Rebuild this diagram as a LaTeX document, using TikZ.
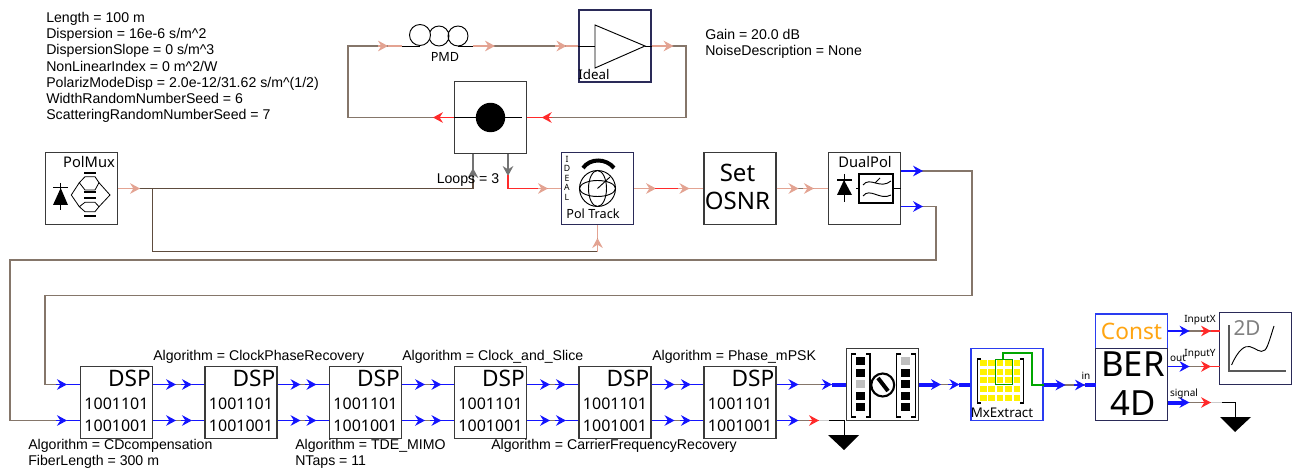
\documentclass[tikz,border=0pt]{standalone}
\usepackage{fontspec}
\setmainfont{Liberation Sans}
\newfontfamily\iconfont{Noto Sans}
\usetikzlibrary{arrows.meta,calc}
\definecolor{wirebrown}{HTML}{85766A}
\definecolor{wiredark}{HTML}{5E4C3E}
\definecolor{wirepink}{HTML}{E3A392}
\definecolor{wirered}{HTML}{FF2A2A}
\definecolor{wireblue}{HTML}{1414FF}
\definecolor{boxedge}{HTML}{3A3A3A}
\definecolor{boxnavy}{HTML}{2A2A58}
\definecolor{framblue}{HTML}{2A3CF0}
\definecolor{constorange}{HTML}{FFA512}
\tikzset{
  box/.style={draw=boxedge, line width=1.1pt, minimum width=53.7pt, minimum height=53.7pt, inner sep=0pt, fill=white, align=center},
  note/.style={font=\fontsize{10.6}{12.2}\selectfont, inner sep=0pt, align=left, anchor=west},
  icon/.style={font=\iconfont\fontsize{#1}{#1}\selectfont, inner sep=0pt, align=center},
  wire/.style={draw=wirebrown, line width=0.9pt},
  pink/.style={draw=wirepink, line width=0.9pt},
  redw/.style={draw=wirered, line width=0.9pt},
  bluew/.style={draw=wireblue, line width=0.9pt},
  bluefat/.style={draw=wireblue, line width=3pt},
  grayw/.style={draw=black!55, line width=1.1pt},
  >={Stealth[length=7.5pt,width=8pt,inset=2.5pt]}
}
\newcommand{\outport}[3]{\draw[#2,->] (#1) -- ++(#3,0);}
\newcommand{\inport}[3]{\draw[#2] ($(#1)+(-#3,0)$) -- (#1);
  \draw[#2,line width=0.9pt,->] ($(#1)+(-#3-11,0)$) -- ($(#1)+(-#3,0)$);}
\begin{document}
\begin{tikzpicture}[x=0.75pt,y=-0.75pt]
\useasboundingbox (0,0) rectangle (1292,470);
\node[box] (polmux) at (81.5,188.5) {};
\node[box] (coupler) at (490.5,117.5) {};
\node[box, draw=boxnavy] (amp) at (615,46) {};
\node[box, draw=boxnavy] (poltrack) at (597.5,188.5) {};
\node[box] (osnr) at (740,188.5) {};
\node[box] (dualpol) at (864.5,188.5) {};
\node[box] (demux) at (882.5,384.5) {};
\node[box, draw=framblue] (mxextract) at (1007,384.5) {};
\node[box, draw=framblue, minimum height=26.5pt, icon=17, text=constorange] (const) at (1131.5,331.5) {Const};
\node[box, draw=boxnavy] (ber) at (1131.5,384.5) {};
\node[box, draw=boxnavy] (plot) at (1255.5,348.5) {};
\node[icon=18] (osnrname) at (737.5,187) {Set\\[3pt]OSNR};
\node[icon=26] (bername) at (1133,383.5) {BER\\[3pt]4D};
\foreach \i/\x in {1/116.5,2/241,3/365.5,4/490.5,5/615,6/740} {
  \node[box] (dsp\i) at (\x,402.5) {};
  \node[icon=17, anchor=east] (dsp\i name) at ($(dsp\i.east)+(-2,-24)$) {DSP};
  \node[icon=12] (dsp\i a) at ($(dsp\i.center)+(0,1.5)$) {1001101};
  \node[icon=12] (dsp\i b) at ($(dsp\i.center)+(0,23)$) {1001001};
  \coordinate (dsp\i wu) at ($(dsp\i.west)+(0,-18)$);
  \coordinate (dsp\i wd) at ($(dsp\i.west)+(0,18)$);
  \coordinate (dsp\i eu) at ($(dsp\i.east)+(0,-18)$);
  \coordinate (dsp\i ed) at ($(dsp\i.east)+(0,18)$);
}
\coordinate (loopup) at ($(coupler.south)+(-17.5,0)$);
\coordinate (loopdown) at ($(coupler.south)+(17.5,0)$);
\coordinate (pmdin) at (402,46);
\coordinate (pmdout) at (473,46);
\coordinate (polu) at ($(dualpol.east)+(0,-17.5)$);
\coordinate (pold) at ($(dualpol.east)+(0,18)$);
\coordinate (tap) at (152.5,188.5);
\coordinate (gnda) at (844,435);
\coordinate (gndb) at (1235,417);
\coordinate (constin) at (1096,385);
\coordinate (constx) at (1167.5,331);
\coordinate (plotx) at (1220,331);
\coordinate (outy) at (1167.5,366.5);
\coordinate (ploty) at (1220,366.5);
\coordinate (signal) at (1167.5,402.5);

% wires
\draw[wire] (coupler.west) -| (348,46) -- (pmdin);
\draw[wire] (pmdout) -- (amp.west);
\draw[wire] (amp.east) -| (686,117.5) -- (coupler.east);
\draw[wire, draw=wiredark] (polmux.east) -| (loopup);
\draw[wire, draw=wiredark] (tap) |- (597.5,251.7) -- (poltrack.south);
\draw[wire] (polu) -| (972,295.7) -- (45,295.7) |- (dsp1wu);
\draw[wire] (pold) -| (936,260) -- (10,260) |- (dsp1wd);
\draw[wire] (dsp6eu) -- (demux.west |- dsp6eu);
\draw[wire] (dsp6ed) -- (829,420.5);
\draw (829,420.5) -| (gnda);
\draw[wire] (demux.east) -- (mxextract.west);
\draw[wire] (mxextract.east |- constin) -- (constin);
\draw[wire] (constx) -- (plotx);
\draw[wire] (outy) -- (ploty);
\draw[wire] (signal) -- (1222,402.5);
\draw (1222,402.5) -| (gndb);
\draw[wire] (osnr.east) -- (dualpol.west);

% ports
\draw[redw,->] (coupler.west) -- ++(-21,0);
\draw[redw] (coupler.east) -- (541.7,117.5);
\draw[redw,->] (552,117.5) -- (541.7,117.5);
\outport{amp.east}{pink}{22}
\outport{pmdout}{pink}{22}
\inport{amp.west}{pink}{12}
\draw[pink,->] (378,46) -- (388,46);
\draw[pink] (388,46) -- (pmdin);
\outport{polmux.east}{pink}{22}
\draw[grayw] (loopup) -- ++(0,25);
\draw[grayw,->] ($(loopup)+(0,25)$) -- (473,168);
\draw[grayw,->] (loopdown) -- ++(0,22);
\draw[redw] (508,175) |- (548,188.5);
\draw[pink,->] (538,188.5) -- (548,188.5);
\draw[pink] (548,188.5) -- (poltrack.west);
\draw[pink,->] (597.5,251.7) -- (597.5,238);
\draw[pink] (597.5,238) -- (poltrack.south);
\outport{poltrack.east}{pink}{22}
\draw[redw] (655,188.5) -- (680,188.5);
\inport{osnr.west}{pink}{14}
\outport{osnr.east}{pink}{22}
\inport{dualpol.west}{pink}{14}
\outport{polu}{bluew}{22}
\outport{pold}{bluew}{22}
\inport{dsp1wu}{bluew}{13}
\inport{dsp1wd}{bluew}{13}
\foreach \i/\j in {1/2,2/3,3/4,4/5,5/6} {
  \draw[wire] (dsp\i eu) -- (dsp\j wu);
  \draw[wire] (dsp\i ed) -- (dsp\j wd);
  \outport{dsp\i eu}{bluew}{23}
  \outport{dsp\i ed}{bluew}{23}
  \inport{dsp\j wu}{bluew}{12.5}
  \inport{dsp\j wd}{bluew}{12.5}
}
\outport{dsp6eu}{bluew}{22}
\outport{dsp6ed}{bluew}{22}
\draw[redw,->] (809,420.5) -- (819,420.5);
\draw[draw=black!20, line width=0.9pt] (819,420.5) -- (829,420.5);
\inport{demux.west}{bluefat}{14}
\outport{demux.east}{bluefat}{22}
\inport{mxextract.west}{bluefat}{11}
\outport{mxextract.east |- constin}{bluefat}{22}
\inport{constin}{bluefat}{11}
\outport{constx}{bluew}{22}
\outport{outy}{bluew}{22}
\outport{signal}{bluefat}{22}
\foreach \a in {331,366.5,402.5} {
  \draw[redw,->] (1201,\a) -- (1211,\a);
}
\draw[redw] (1211,331) -- (plotx);
\draw[redw] (1211,366.5) -- (ploty);
\draw[draw=black!20, line width=0.9pt] (1211,402.5) -- (1222,402.5);

% grounds
\fill (828,435) -- (859,435) -- (844,450) -- cycle;
\fill (1220,417) -- (1251,417) -- (1235,432) -- cycle;

% amp and fibre
\draw[line width=0.6pt] (amp.west) -- (595,46);
\draw[line width=0.6pt] (645,46) -- (amp.east);
\draw[line width=0.7pt, fill=white] (595,25) -- (645,46) -- (595,68) -- cycle;
\node[icon=10] (amplabel) at (594,75) {Ideal};
\draw[line width=0.7pt, fill=white] (458,36) circle (10) (439,36) circle (10);
\draw[line width=0.7pt, fill=white] (420,35) circle (10.5);
\draw[line width=0.7pt] (pmdin) -- (420,46);
\draw[line width=0.7pt] (458,46) -- (pmdout);
\node[icon=9.5] (pmdlabel) at (445,57) {PMD};

% coupler
\draw[line width=0.6pt] (coupler.west) -- (522,117.5);
\fill (coupler.center) circle (14.7);
\node[font=\fontsize{10.6}{12}\selectfont, inner sep=0pt] (loops) at (468,180) {Loops = 3};

% polmux
\node[icon=11] (polmuxname) at (89,162) {PolMux};
\draw[line width=0.6pt] (60.7,183) -- (60.7,210.5);
\draw[line width=0.8pt] (53,187.7) -- (68,187.7);
\fill (60.7,188) -- (68,205) -- (53,205) -- cycle;
\draw[line width=0.6pt] (79.3,182.7) -- (71.3,195) -- (79.3,206.7) (99,182.7) -- (110,195) -- (99,206.7);
\draw[line width=0.6pt] (79.3,182.7) -- (85,176.7) -- (95,176.7) -- (99,182.7) -- (95,190) -- (85,190) -- cycle;
\draw[line width=0.6pt] (79.3,206.7) -- (85,202.3) -- (95,202.3) -- (99,206.7) -- (95,211.7) -- (85,211.7) -- cycle;
\foreach \a in {173.3,191.7,198.3,216} {
  \draw[line width=1.5pt] (84,\a) -- (96,\a);
}

% pol track
\node[font=\iconfont\fontsize{6.5}{7.1}\selectfont, inner sep=0pt, align=center] (ideal) at (567,178) {I\\D\\E\\A\\L};
\draw[line width=0.7pt] (poltrack.center) circle (18);
\draw[line width=0.7pt] (poltrack.center) ellipse (9 and 18);
\draw[line width=0.7pt] (poltrack.center) ellipse (18 and 8);
\draw[line width=0.7pt] (poltrack.center) -- (610,177);
\draw[line width=3pt] (583,168) .. controls (590,158) and (606,158) .. (614,168);
\node[icon=9.5] (poltrackname) at (593,214) {Pol Track};

% dual pol
\node[icon=11] (dualname) at (865,162) {DualPol};
\draw[line width=0.6pt] (844,174) -- (844,202);
\draw[line width=0.8pt] (837,180) -- (852,180);
\fill (844,180) -- (852,195) -- (837,195) -- cycle;
\draw[line width=0.6pt] (856,188.5) -- (859,188.5) (893,188.5) -- (dualpol.east);
\draw[line width=0.9pt] (859,174) rectangle (893,203);
\draw[line width=0.7pt] (863,185) .. controls (870,176) and (880,190) .. (891,181);
\draw[line width=0.7pt] (863,196) .. controls (870,187) and (880,201) .. (891,195);
\draw[line width=0.7pt] (875,183) -- (880,178);

% demux
\foreach \a/\b in {851.7/855.7,870/866,896.7/901,915.7/911} {
  \draw[line width=1pt] (\b,354) -- (\a,354) -- (\a,417) -- (\b,417);
}
\foreach \a/\c in {361/black,373.3/black,384.3/black!25,395.7/black,407.3/black} {
  \fill[\c] (856,\a-4) rectangle (864.5,\a+4);
}
\foreach \a/\c in {361/black!25,373.3/black,384.3/black,395.7/black,407.3/black} {
  \fill[\c] (901,\a-4) rectangle (909.5,\a+4);
}
\draw[line width=1.6pt] (882.7,385) circle (11.5);
\draw[line width=3pt] (878,378) -- (888,391);

% mx extract
\foreach \a/\b in {977.3/981,1023.3/1019.5} {
  \draw[line width=1pt] (\b,359) -- (\a,359) -- (\a,403) -- (\b,403);
}
\foreach \a in {983.3,991.7,1000,1008.3,1017} {
  \foreach \b in {362.5,371.7,380,389,397.7} {
    \fill[yellow] (\a-3.3,\b-3) rectangle (\a+3.3,\b+3);
  }
}
\draw[green!60!black, line width=0.7pt] (995.7,359) rectangle (1012,384.3);
\draw[green!65!black, line width=1.4pt] (1003,359) |- (1031.7,353) |- (mxextract.east |- constin);
\node[icon=10] (mxname) at (1002,413) {MxExtract};

% plot
\node[icon=15.5, text=black!50] (plotname) at (1247,328) {2D};
\draw[black!65, line width=0.8pt] (1229,325) |- (1286,371);
\draw[line width=0.7pt] (1231.6,365) .. controls (1238,350) and (1245,345) .. (1250,346.7) .. controls (1256,348) and (1260,354) .. (1265,350) .. controls (1268,347) and (1271,335) .. (1274,326);

% port labels
\node[icon=7.5] (inname) at (1086,376) {in};
\node[icon=7.5] (xname) at (1200,320) {InputX};
\node[icon=7.5] (yname) at (1200,354) {InputY};
\node[icon=7.5] (outname) at (1178,358) {out};
\node[icon=7.5] (signalname) at (1184,394) {signal};

% parameters
\node[note] (fibre) at (46,67.5) {Length = 100 m\\Dispersion = 16e-6 s/m\textasciicircum 2\\DispersionSlope = 0 s/m\textasciicircum 3\\NonLinearIndex = 0 m\textasciicircum 2/W\\PolarizModeDisp = 2.0e-12/31.62 s/m\textasciicircum (1/2)\\WidthRandomNumberSeed = 6\\ScatteringRandomNumberSeed = 7};
\node[note] (gain) at (705,44) {Gain = 20.0 dB\\NoiseDescription = None};
\node[note] (alga) at (153,357) {Algorithm = ClockPhaseRecovery};
\node[note] (algb) at (402,357) {Algorithm = Clock\_and\_Slice};
\node[note] (algc) at (652,357) {Algorithm = Phase\_mPSK};
\node[note] (algd) at (28,454) {Algorithm = CDcompensation\\FiberLength = 300 m};
\node[note] (alge) at (295,454) {Algorithm = TDE\_MIMO\\NTaps = 11};
\node[note] (algf) at (491,446) {Algorithm = CarrierFrequencyRecovery};
\end{tikzpicture}
\end{document}
